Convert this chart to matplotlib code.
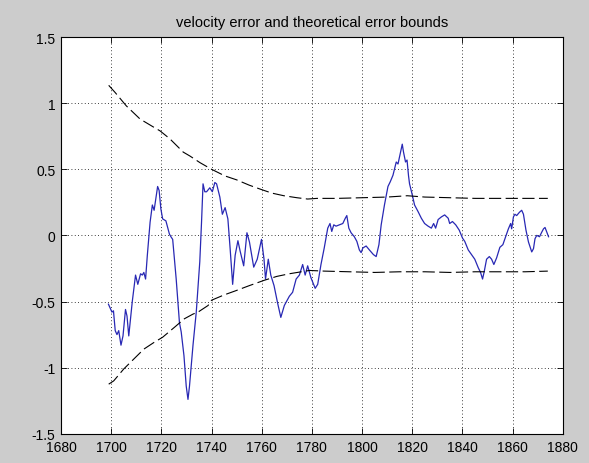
import matplotlib
matplotlib.use("Agg")
import matplotlib.pyplot as plt

# velocity error
err_year = [1698.9, 1700.3, 1700.9, 1701.6, 1702.3, 1703.0, 1703.9, 1704.7, 1705.7, 1706.3,
            1707.0, 1708.4, 1709.7, 1710.6, 1711.7, 1712.4, 1713.0, 1713.7, 1714.4, 1715.5,
            1716.4, 1717.1, 1717.8, 1718.5, 1719.1, 1719.8, 1720.5, 1721.8, 1723.2, 1723.8,
            1724.5, 1725.9, 1727.2, 1727.9, 1729.0, 1729.9, 1730.6, 1731.2, 1732.6, 1733.9,
            1735.3, 1736.0, 1736.6, 1737.3, 1738.0, 1739.3, 1740.3, 1741.3, 1742.0, 1743.3,
            1744.3, 1745.4, 1746.5, 1747.4, 1748.4, 1749.4, 1750.5, 1751.4, 1752.8, 1754.1,
            1755.1, 1756.8, 1758.2, 1759.9, 1760.9, 1761.5, 1762.6, 1763.6, 1764.9, 1766.3,
            1767.6, 1769.0, 1771.0, 1772.3, 1773.7, 1775.0, 1776.3, 1777.3, 1778.3, 1779.6,
            1781.3, 1782.3, 1783.6, 1784.9, 1786.3, 1787.2, 1787.9, 1788.7, 1789.6, 1790.9,
            1792.3, 1793.3, 1793.9, 1794.7, 1795.6, 1796.9, 1797.9, 1798.9, 1799.6, 1800.3,
            1801.6, 1802.9, 1804.5, 1805.6, 1806.7, 1807.6, 1808.9, 1810.3, 1811.2, 1812.3,
            1813.6, 1814.3, 1815.2, 1816.0, 1816.5, 1817.3, 1817.9, 1818.5, 1818.9, 1820.0,
            1820.9, 1822.3, 1823.6, 1824.9, 1826.3, 1827.6, 1828.5, 1829.3, 1830.3, 1831.6,
            1832.9, 1834.3, 1834.9, 1836.0, 1837.3, 1838.7, 1840.0, 1840.9, 1842.3, 1843.6,
            1844.9, 1846.3, 1847.2, 1848.0, 1848.7, 1849.6, 1850.7, 1851.6, 1852.5, 1853.6,
            1854.9, 1856.1, 1857.0, 1858.3, 1859.2, 1859.6, 1860.3, 1860.9, 1861.6, 1862.7,
            1863.6, 1864.3, 1865.3, 1866.3, 1867.6, 1868.3, 1868.9, 1869.6, 1870.7, 1871.6,
            1872.3, 1872.9, 1873.3, 1873.9, 1874.3]
err_val = [-0.52, -0.58, -0.57, -0.72, -0.75, -0.72, -0.83, -0.76, -0.56, -0.61,
           -0.76, -0.50, -0.30, -0.37, -0.29, -0.30, -0.28, -0.33, -0.15, 0.10,
           0.23, 0.19, 0.28, 0.37, 0.34, 0.20, 0.125, 0.11, 0.01, -0.01,
           -0.03, -0.33, -0.66, -0.73, -0.91, -1.14, -1.24, -1.14, -0.83, -0.58,
           -0.20, 0.10, 0.39, 0.33, 0.33, 0.36, 0.33, 0.40, 0.39, 0.29,
           0.16, 0.21, 0.125, -0.10, -0.37, -0.15, -0.04, -0.12, -0.23, 0.02,
           -0.05, -0.24, -0.18, -0.03, -0.18, -0.33, -0.18, -0.30, -0.38, -0.51,
           -0.62, -0.53, -0.46, -0.43, -0.33, -0.30, -0.22, -0.30, -0.23, -0.32,
           -0.40, -0.37, -0.22, -0.095, 0.055, 0.09, 0.03, 0.08, 0.07, 0.08,
           0.09, 0.13, 0.15, 0.055, 0.02, -0.01, -0.045, -0.11, -0.13, -0.095,
           -0.08, -0.11, -0.145, -0.16, -0.07, 0.08, 0.23, 0.37, 0.405, 0.455,
           0.555, 0.54, 0.62, 0.69, 0.63, 0.555, 0.57, 0.45, 0.39, 0.305,
           0.23, 0.18, 0.13, 0.09, 0.07, 0.055, 0.09, 0.055, 0.12, 0.14,
           0.155, 0.13, 0.09, 0.105, 0.08, 0.04, -0.02, -0.045, -0.11, -0.145,
           -0.18, -0.245, -0.28, -0.33, -0.27, -0.18, -0.16, -0.18, -0.22, -0.17,
           -0.09, -0.07, -0.02, 0.05, 0.09, 0.05, 0.14, 0.16, 0.15, 0.175,
           0.19, 0.16, 0.04, -0.05, -0.125, -0.10, -0.025, 0.0, -0.01, 0.025,
           0.05, 0.06, 0.04, 0.01, -0.01]

# theoretical bounds
up_year = [1699, 1701.6, 1706, 1711.5, 1716.8, 1719.5, 1723.4, 1728.7, 1731.4, 1735.4,
           1740, 1745.3, 1750, 1755, 1759.4, 1764, 1768.8, 1774, 1778.3, 1782,
           1790, 1800, 1810, 1818, 1825, 1835, 1845, 1855, 1865, 1874]
up_val = [1.135, 1.08, 0.98, 0.88, 0.82, 0.79, 0.73, 0.63, 0.60, 0.55,
          0.50, 0.45, 0.42, 0.38, 0.35, 0.32, 0.30, 0.285, 0.275, 0.28,
          0.28, 0.285, 0.29, 0.30, 0.29, 0.285, 0.28, 0.28, 0.28, 0.28]
lo_year = [1699, 1701, 1705, 1709, 1713, 1717, 1720.5, 1725.2, 1729.2, 1732.6,
           1734.6, 1738.6, 1740, 1745, 1749.4, 1755, 1760.9, 1766, 1771, 1779,
           1785, 1795, 1805, 1815, 1825, 1835, 1845, 1855, 1865, 1874]
lo_val = [-1.125, -1.10, -1.01, -0.935, -0.86, -0.81, -0.77, -0.695, -0.63, -0.595,
          -0.58, -0.53, -0.49, -0.45, -0.42, -0.38, -0.34, -0.31, -0.29, -0.265,
          -0.27, -0.275, -0.28, -0.275, -0.275, -0.28, -0.275, -0.275, -0.275, -0.27]

x_ticks = list(range(1680, 1881, 20))
y_ticks = [-1.5, -1, -0.5, 0, 0.5, 1, 1.5]
y_labels = ["-1.5", "-1", "-0.5", "0", "0.5", "1", "1.5"]

plt.rcParams["font.family"] = ["Liberation Sans", "DejaVu Sans"]

fig = plt.figure(figsize=(5.89, 4.64), dpi=100, facecolor="#cccccc")
ax = fig.add_axes([0.1036, 0.063, 0.852, 0.855])
ax.set_facecolor("white")

ax.plot(err_year, err_val, color="#2828b4", lw=0.9)
ax.plot(up_year, up_val, color="black", lw=0.8, ls=(0, (11, 4)))
ax.plot(lo_year, lo_val, color="black", lw=0.8, ls=(0, (11, 4)))

ax.set_xlim(1680, 1880)
ax.set_ylim(-1.5, 1.5)
ax.set_xticks(x_ticks)
ax.set_yticks(y_ticks)
ax.set_yticklabels(y_labels)
ax.grid(True, color="black", ls=(0, (1, 3)), lw=0.6)
ax.tick_params(direction="in", top=True, right=True, length=4, width=0.6,
               labelsize=10, colors="black")
ax.tick_params(axis="x", pad=4.5)
ax.tick_params(axis="y", pad=4)
for s in ax.spines.values():
    s.set_linewidth(0.8)

ax.set_title("velocity error and theoretical error bounds", fontsize=10.5, pad=8)

fig.savefig("out.png", dpi=100, facecolor=fig.get_facecolor())
